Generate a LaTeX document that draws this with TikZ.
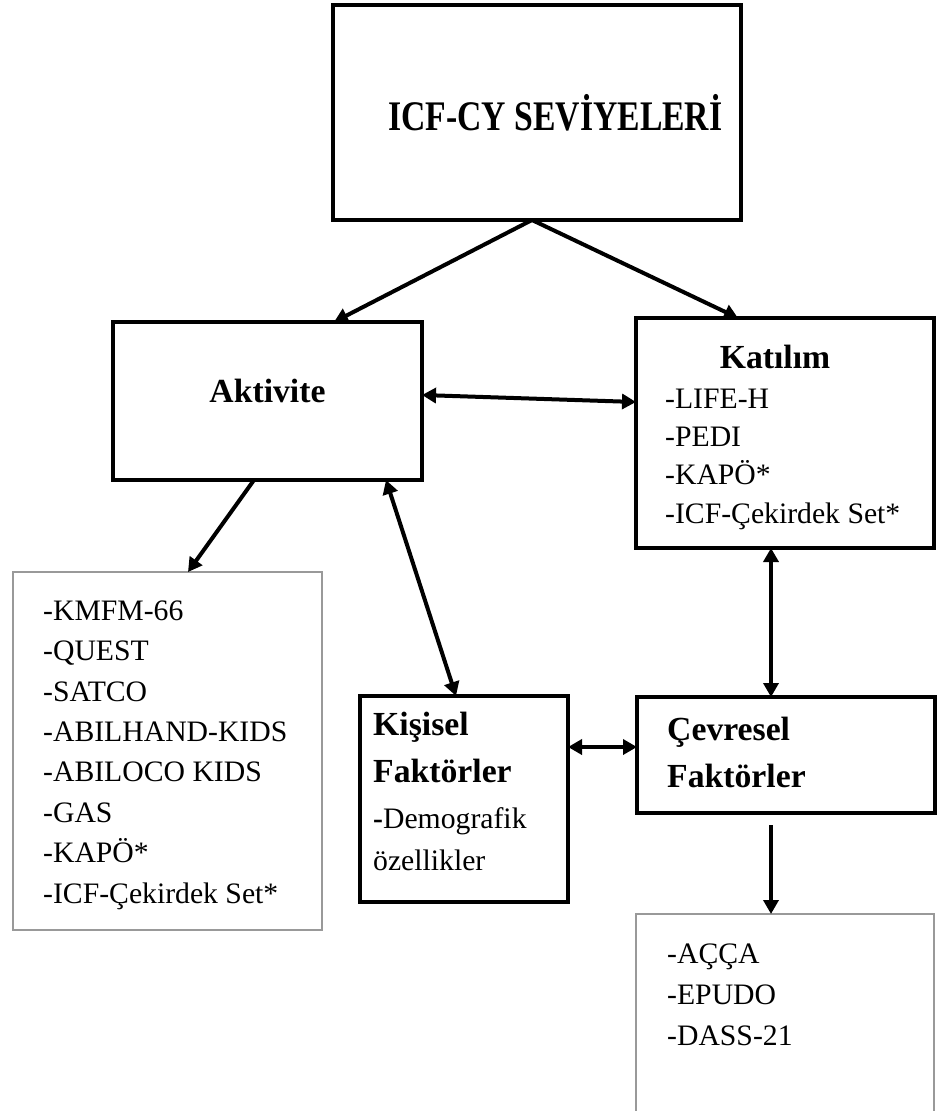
\documentclass[tikz,border=0pt]{standalone}
\usepackage{fontspec}
\setmainfont{Liberation Serif}
\usepackage{graphicx}
\usetikzlibrary{arrows.meta}
\begin{document}
\begin{tikzpicture}[x=1pt,y=-1pt,
  thickbox/.style={draw=black, line width=3.5pt, rectangle, inner sep=0pt, outer sep=0pt},
  thinbox/.style={draw=gray!80, line width=1.1pt, rectangle, inner sep=0pt, outer sep=0pt},
  head/.style={font=\fontsize{33.7}{47}\selectfont\bfseries, inner sep=0pt, align=left},
  listtext/.style={font=\fontsize{29.7}{40.4}\selectfont, inner sep=0pt, anchor=base west, align=left},
  conn/.style={line width=4pt, -{Triangle[length=14pt,width=15pt]}},
  biconn/.style={line width=4pt, {Triangle[length=14pt,width=15pt]}-{Triangle[length=14pt,width=15pt]}},
]
\useasboundingbox (0,0) rectangle (937,1111);
\clip (0,0) rectangle (937,1111);

% boxes
\node[thickbox, minimum width=408pt, minimum height=215pt] (top) at (537,112.5) {};
\node[thickbox, minimum width=309pt, minimum height=158pt] (akt) at (267.5,401) {};
\node[thickbox, minimum width=298pt, minimum height=230pt] (kat) at (785,433) {};
\node[thinbox, minimum width=309pt, minimum height=358pt] (llist) at (167.5,751) {};
\node[thickbox, minimum width=208pt, minimum height=206pt] (kis) at (464,799) {};
\node[thickbox, minimum width=298pt, minimum height=116pt] (cev) at (786,755) {};
\node[thinbox, minimum width=298pt, minimum height=286pt] (blist) at (785,1057) {};

% texts (multi-line nodes are anchored at the baseline of their last line)
\node[head, anchor=base west] (ttl) at (388,130) {\scalebox{1}[1.25]{ICF-CY SEVİYELERİ}};
\node[head, anchor=base] (akttxt) at (267.5,402) {Aktivite};
\node[head, anchor=base] (kathead) at (775,368) {Katılım};
\node[listtext, font=\fontsize{29.7}{38.3}\selectfont] (katlist) at (665,523) {-LIFE-H\\-PEDI\\-KAPÖ*\\-ICF-Çekirdek Set*};
\node[listtext] (llisttxt) at (43,903) {-KMFM-66\\-QUEST\\-SATCO\\-ABILHAND-KIDS\\-ABILOCO KIDS\\-GAS\\-KAPÖ*\\-ICF-Çekirdek Set*};
\node[head, anchor=base west] (kishead) at (373,782) {Kişisel\\Faktörler};
\node[listtext, font=\fontsize{29.7}{42}\selectfont] (kislist) at (373,870) {{\bfseries -}Demografik\\özellikler};
\node[head, anchor=base west] (cevhead) at (667,787) {Çevresel\\Faktörler};
\node[listtext, font=\fontsize{29.7}{41}\selectfont] (blisttxt) at (667,1045) {-AÇÇA\\-EPUDO\\-DASS-21};

% connectors
\draw[conn] ([xshift=-5pt]top.south) -- ([xshift=66.5pt]akt.north);
\draw[conn] ([xshift=-5pt]top.south) -- ([xshift=-47pt]kat.north);
\draw[biconn] ([yshift=6pt]akt.east) -- ([yshift=31pt]kat.west);
\draw[conn] ([xshift=-13.5pt]akt.south) -- ([xshift=20.5pt]llist.north);
\draw[biconn] ([xshift=118.5pt]akt.south) -- ([xshift=-8pt]kis.north);
\draw[biconn] ([xshift=-14pt]kat.south) -- ([xshift=-15pt]cev.north);
\draw[biconn] ([yshift=52pt]kis.east) -- ([yshift=8pt]cev.west);
\draw[conn] ([xshift=-15pt,yshift=-12pt]cev.south) -- ([xshift=-14pt]blist.north);
\end{tikzpicture}
\end{document}
